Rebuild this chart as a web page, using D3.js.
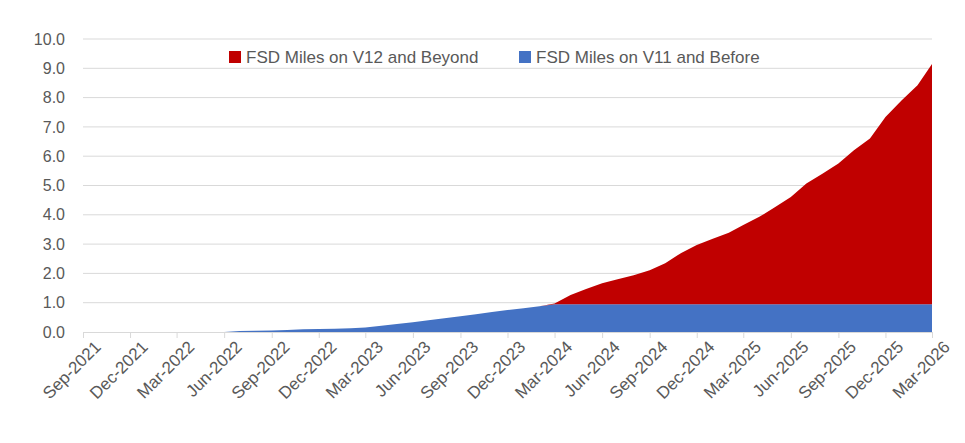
<!DOCTYPE html>
<html><head><meta charset="utf-8">
<script src="https://cdn.jsdelivr.net/npm/d3@7"></script>
<style>body{margin:0;background:#fff}text{font-family:"Liberation Sans",Arial,sans-serif}</style>
</head><body><svg id="chart"></svg>
<script>
// monthly, Sep-2021 .. Mar-2026
const months = d3.timeMonth.range(new Date(2021, 8, 1), new Date(2026, 3, 1));
const v11Before = [0,0,0,0,0,0,0,0,0,
  0.0,0.03,0.04,0.05,0.07,0.09,0.10,0.11,0.13,0.15,0.21,0.27,0.33,0.40,0.47,0.54,0.61,0.68,0.75,0.81,0.88,0.95,
  0.95,0.95,0.95,0.95,0.95,0.95,0.95,0.95,0.95,0.95,0.95,0.95,0.95,0.95,0.95,0.95,0.95,0.95,0.95,0.95,0.95,0.95,0.95,0.95];
const totals = [0.97,1.26,1.47,1.66,1.80,1.94,2.11,2.35,2.70,2.97,3.18,3.39,3.65,3.93,4.26,4.61,5.07,5.40,5.75,6.20,6.60,7.34,7.90,8.42,9.15];
const v12Beyond = new Array(30).fill(0).concat(totals.map(t => +(t - 0.95).toFixed(2)));
const seriesNames = ['FSD Miles on V12 and Beyond', 'FSD Miles on V11 and Before'];
const yTicks = d3.range(0, 10.01, 1);

const W = 965, H = 443;
const margin = { top: 39, right: 33, bottom: 111, left: 83 };
const width = W - margin.left - margin.right;
const height = H - margin.top - margin.bottom;

const svg = d3.select('#chart').attr('width', W).attr('height', H);
const chart = svg.append('g').attr('transform', `translate(${margin.left},${margin.top})`);

const x = d3.scaleTime().domain([months[0], months[months.length - 1]]).range([0, width]);
const y = d3.scaleLinear().domain([0, 10]).range([height, 0]);

chart.selectAll('.grid').data(yTicks.slice(1)).enter().append('line')
  .attr('x1', 0).attr('x2', width)
  .attr('y1', d => y(d)).attr('y2', d => y(d))
  .attr('stroke', '#d9d9d9');

const rows = months.map((m, i) => ({ date: m, v11: v11Before[i], v12: v12Beyond[i] }));
const stack = d3.stack().keys(['v11', 'v12'])(rows);
const colors = { v11: '#4472c4', v12: '#c00000' };
const area = d3.area().x(d => x(d.data.date)).y0(d => y(d[0])).y1(d => y(d[1]));
chart.selectAll('.layer').data(stack).enter().append('path')
  .attr('fill', d => colors[d.key]).attr('d', area);

const yAxis = chart.append('g').call(d3.axisLeft(y).tickValues(yTicks).tickFormat(d3.format('.1f')).tickSize(0).tickPadding(18));
yAxis.select('.domain').remove();
yAxis.selectAll('text').style('font-size', '16px').attr('fill', '#595959');

const quarterTicks = months.filter((m, i) => i % 3 === 0);
const xAxis = chart.append('g').attr('transform', `translate(0,${height})`)
  .call(d3.axisBottom(x).tickValues(quarterTicks).tickFormat(d3.timeFormat('%b-%Y')).tickSize(6));
xAxis.select('.domain').attr('stroke', '#d9d9d9');
xAxis.selectAll('line').attr('stroke', '#d9d9d9');
xAxis.selectAll('text').style('font-size', '17px').attr('fill', '#595959')
  .attr('text-anchor', 'end').attr('dx', '0.1em').attr('dy', '0.9em')
  .attr('transform', 'rotate(-45)');

const legend = svg.append('g').attr('transform', 'translate(229,57)');
[['v12', seriesNames[0], 0], ['v11', seriesNames[1], 290]].forEach(([k, name, off]) => {
  const g = legend.append('g').attr('transform', `translate(${off},0)`);
  g.append('rect').attr('x', 0).attr('y', -6).attr('width', 12).attr('height', 12).attr('fill', colors[k]);
  g.append('text').attr('x', 17).attr('y', 6).style('font-size', '17px').attr('fill', '#595959').text(name);
});
</script></body></html>
